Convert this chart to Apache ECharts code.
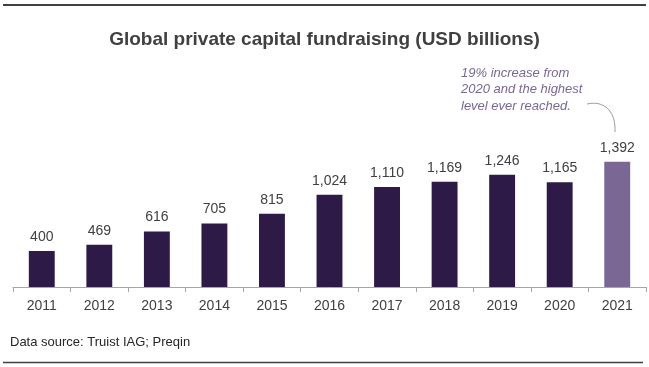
<!DOCTYPE html>
<html>
<head>
<meta charset="utf-8">
<script src="https://cdn.jsdelivr.net/npm/echarts@6/dist/echarts.min.js"></script>
<style>html,body{margin:0;padding:0;background:#fff}#c{width:649px;height:367px}</style>
</head>
<body>
<div id="c"></div>
<script>
var years = ['2011','2012','2013','2014','2015','2016','2017','2018','2019','2020','2021'];
var values = [400, 469, 616, 705, 815, 1024, 1110, 1169, 1246, 1165, 1392];
var highlightYear = '2021';

var FONT = '"Liberation Sans", Arial, sans-serif';
var chart = echarts.init(document.getElementById('c'), null, {renderer: 'canvas'});
var data = values.map(function (v, i) {
  return {
    value: v,
    itemStyle: { color: years[i] === highlightYear ? '#7B6794' : '#2E1A47' }
  };
});
chart.setOption({
  animation: false,
  title: {
    text: 'Global private capital fundraising (USD billions)',
    left: 'center', top: 25,
    textStyle: { fontFamily: FONT, fontSize: 19, fontWeight: 'bold', color: '#404040' }
  },
  grid: { left: 13, right: 3, top: 143, bottom: 80, containLabel: false },
  xAxis: {
    type: 'category', data: years,
    axisLine: { lineStyle: { color: '#A6A6A6', width: 1 } },
    axisTick: { show: true, length: 5, lineStyle: { color: '#A6A6A6' } },
    axisLabel: { fontFamily: FONT, fontSize: 14, color: '#404040', margin: 12 }
  },
  yAxis: {
    type: 'value', min: 0, max: 1600, show: false,
    splitLine: { show: false }
  },
  series: [{
    type: 'bar', data: data, barWidth: '45%',
    label: {
      show: true, position: 'top', distance: 7,
      fontFamily: FONT, fontSize: 14, color: '#404040',
      formatter: function (p) { return p.value.toLocaleString('en-US'); }
    }
  }],
  graphic: [
    { type: 'line', shape: { x1: 3, y1: 5, x2: 646, y2: 5 }, style: { stroke: '#404040', lineWidth: 2 } },
    { type: 'line', shape: { x1: 3, y1: 362.5, x2: 643, y2: 362.5 }, style: { stroke: '#404040', lineWidth: 1.5 } },
    { type: 'text', left: 10, top: 336, style: { text: 'Data source: Truist IAG; Preqin', font: '13px ' + FONT, fill: '#262626' } },
    { type: 'text', left: 461, top: 65, style: {
        text: '19% increase from\n2020 and the highest\nlevel ever reached.',
        font: 'italic 13px ' + FONT, fill: '#7B6794', lineHeight: 16.5 } },
    { type: 'bezierCurve', shape: { x1: 587, y1: 104, cpx1: 605, cpy1: 100, cpx2: 616, cpy2: 112, x2: 615, y2: 132 },
      style: { stroke: '#9A9A9A', lineWidth: 1, fill: null } }
  ]
});
</script>
</body>
</html>
